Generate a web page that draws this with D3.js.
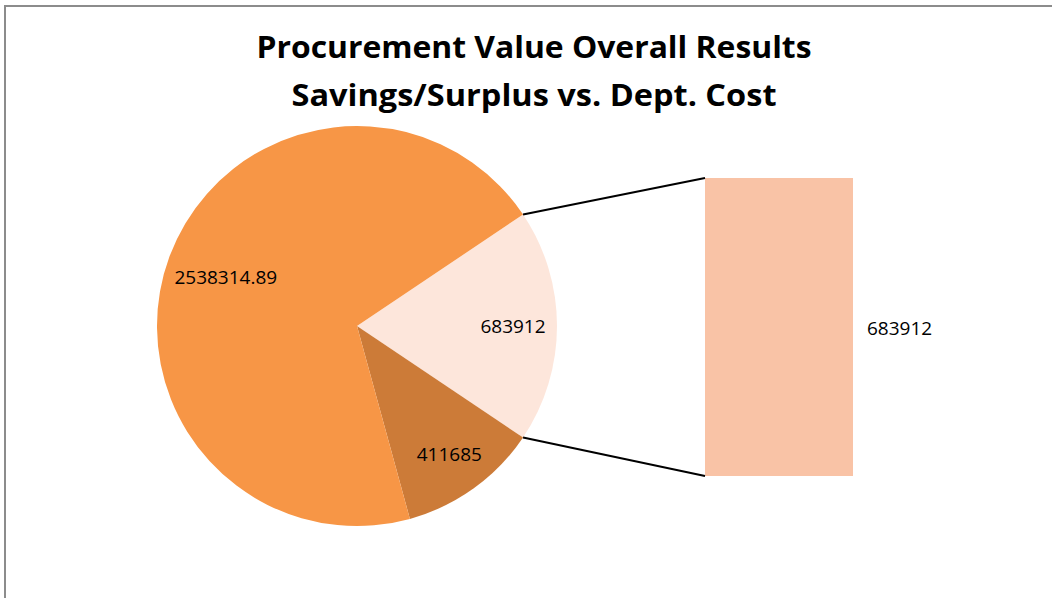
<!DOCTYPE html>
<html>
<head>
<meta charset="utf-8">
<script src="https://cdn.jsdelivr.net/npm/d3@7"></script>
<style>
  body { margin: 0; background: #fff; }
  svg { display: block; }
</style>
</head>
<body>
<div id="chart"></div>
<script>
// chart values
const titleLines = ["Procurement Value Overall Results", "Savings/Surplus vs. Dept. Cost"];
const sliceNames = ["Savings/Surplus", "Other", "Dept. Cost"];
const sliceValues = [683912, 411685, 2538314.89];
const sliceLabels = ["683912", "411685", "2538314.89"];
const barValues = [683912];
const barLabels = ["683912"];

const width = 1052, height = 598;
const colors = ["#FDE6DB", "#CC7B38", "#F79646"];
const barColor = "#F9C3A6";
const labelRadius = [156, 158, 140]; // excel's best-fit spots, roughly

const svg = d3.select("#chart").append("svg")
  .attr("width", width)
  .attr("height", height);

// chart frame (only left and top edges fall inside the window)
svg.append("rect")
  .attr("x", 5).attr("y", 6)
  .attr("width", width + 20).attr("height", height + 20)
  .attr("fill", "none")
  .attr("stroke", "#8c8c8c")
  .attr("stroke-width", 2);

// title
const titleWidths = [555, 485];
svg.selectAll("text.title").data(titleLines).enter()
  .append("text")
  .attr("class", "title")
  .attr("x", 534)
  .attr("y", (d, i) => 58 + i * 48)
  .attr("text-anchor", "middle")
  .attr("font-family", "'Open Sans', sans-serif")
  .attr("font-weight", "bold")
  .attr("font-size", 31)
  .attr("textLength", (d, i) => titleWidths[i])
  .attr("lengthAdjust", "spacingAndGlyphs")
  .attr("fill", "#000")
  .text(d => d);

// pie, light slice centred at 3 o'clock
const cx = 357, cy = 326, R = 200;
const total = d3.sum(sliceValues);
const firstAngle = sliceValues[0] / total * 2 * Math.PI;
const start = Math.PI / 2 - firstAngle / 2;

const pie = d3.pie().sort(null).startAngle(start).endAngle(start + 2 * Math.PI);
const arcs = pie(sliceValues);
const arc = d3.arc().innerRadius(0).outerRadius(R);

const g = svg.append("g").attr("transform", `translate(${cx},${cy})`);

g.selectAll("path").data(arcs).enter()
  .append("path")
  .attr("d", arc)
  .attr("fill", (d, i) => colors[i]);

g.selectAll("text").data(arcs).enter()
  .append("text")
  .attr("transform", (d, i) => {
    const la = d3.arc().innerRadius(labelRadius[i]).outerRadius(labelRadius[i]);
    return `translate(${la.centroid(d)})`;
  })
  .attr("text-anchor", "middle")
  .attr("dy", "0.35em")
  .attr("font-family", "'Open Sans', sans-serif")
  .attr("font-size", 19)
  .attr("fill", "#000")
  .text((d, i) => sliceLabels[i]);

// bar of the split-off slice
const barX = d3.scaleBand().domain(barLabels).range([705, 853]).padding(0);
const barY = d3.scaleLinear().domain([0, d3.sum(barValues)]).range([476, 178]);

svg.selectAll("rect.bar").data(barValues).enter()
  .append("rect")
  .attr("class", "bar")
  .attr("x", (d, i) => barX(barLabels[i]))
  .attr("width", barX.bandwidth())
  .attr("y", d => barY(d))
  .attr("height", d => barY(0) - barY(d))
  .attr("fill", barColor);

svg.selectAll("text.barlabel").data(barValues).enter()
  .append("text")
  .attr("class", "barlabel")
  .attr("x", (d, i) => barX(barLabels[i]) + barX.bandwidth() + 14)
  .attr("y", d => (barY(0) + barY(d)) / 2 + 1)
  .attr("dy", "0.35em")
  .attr("font-family", "'Open Sans', sans-serif")
  .attr("font-size", 19)
  .attr("fill", "#000")
  .text((d, i) => barLabels[i]);

// connector lines from the light slice edges to the bar corners
const a0 = arcs[0].startAngle, a1 = arcs[0].endAngle;
const edge = a => [cx + R * Math.sin(a), cy - R * Math.cos(a)];
const connectors = [
  [edge(a0), [barX.range()[0], barY(d3.sum(barValues))]],
  [edge(a1), [barX.range()[0], barY(0)]]
];
svg.selectAll("line.conn").data(connectors).enter()
  .append("line")
  .attr("class", "conn")
  .attr("x1", d => d[0][0]).attr("y1", d => d[0][1])
  .attr("x2", d => d[1][0]).attr("y2", d => d[1][1])
  .attr("stroke", "#000")
  .attr("stroke-width", 2);
</script>
</body>
</html>
